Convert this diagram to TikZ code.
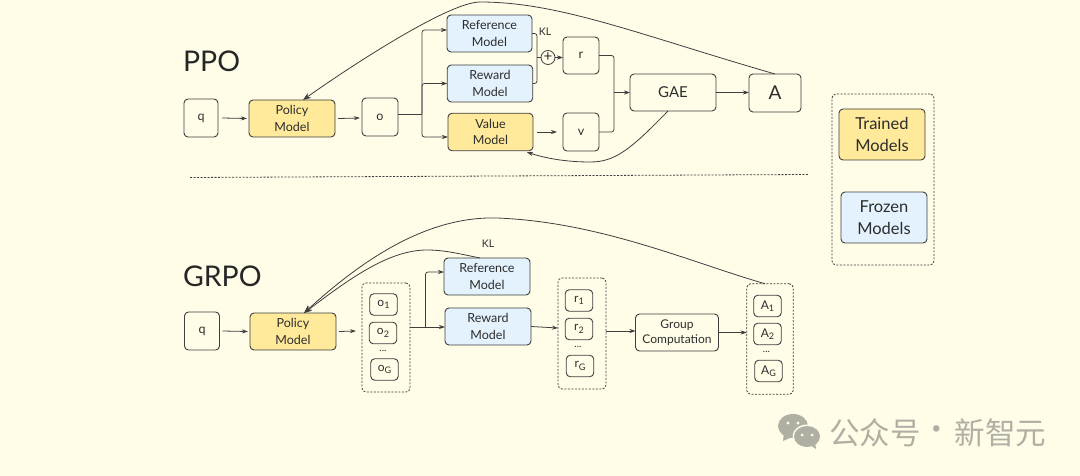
\documentclass[tikz,border=0pt]{standalone}
\usepackage{fontspec}
\setmainfont{Lato}
\newfontfamily\cjkf{Noto Sans CJK SC}
\usetikzlibrary{arrows.meta,calc}
\definecolor{bgc}{RGB}{255,253,232}
\definecolor{yel}{RGB}{255,233,154}
\definecolor{blu}{RGB}{227,242,253}
\definecolor{ink}{RGB}{62,62,62}
\definecolor{txt}{RGB}{45,45,45}
\definecolor{wm}{RGB}{176,175,163}
\newcommand{\sbs}[1]{\raisebox{-2.5pt}{\fontsize{9}{9}\selectfont #1}}
\tikzset{
  x=1pt,y=-1pt,
  every node/.style={text=txt,inner sep=0pt,outer sep=0pt},
  bx/.style={draw=ink,line width=0.9pt,rounded corners=4pt,align=center,font=\fontsize{12.5}{16.5}\selectfont},
  plain/.style={bx,fill=bgc},
  yb/.style={bx,fill=yel},
  bb/.style={bx,fill=blu},
  leg/.style={font=\fontsize{16.5}{21.5}\selectfont},
  big/.style={font=\fontsize{19}{20}\selectfont},
  small/.style={bx,fill=bgc,minimum width=27.5pt,minimum height=21.5pt,font=\fontsize{12}{12}\selectfont},
  grp/.style={draw=ink,line width=0.8pt,dash pattern=on 2pt off 1.5pt,rounded corners=4pt},
  lbl/.style={font=\fontsize{10.5}{12}\selectfont},
  title/.style={font=\fontsize{28.5}{30}\selectfont,anchor=west,text=black!85},
  dots/.style={font=\fontsize{10}{10}\selectfont},
  arr/.style={draw=ink,line width=0.8pt,-{Stealth[length=6pt,width=4pt]}},
  longarr/.style={draw=ink,line width=0.8pt,-{Stealth[length=8pt,width=6pt]}},
  lin/.style={draw=ink,line width=0.8pt,rounded corners=2.5pt},
  wmk/.style={text=wm,font={\cjkf\fontsize{30.5}{30.5}\selectfont}},
}
\begin{document}
\begin{tikzpicture}
\path[fill=bgc] (0,0) rectangle (1080,476);
\useasboundingbox (0,0) rectangle (1080,476);

% --- PPO
\node[title] (ppo) at (183,61) {PPO};
\node[plain,minimum width=34pt,minimum height=38pt] (q1) at (201,118) {q};
\node[yb,minimum width=86pt,minimum height=37pt] (pol1) at (292,118.5) {Policy\\Model};
\node[plain,minimum width=36pt,minimum height=38pt] (o1) at (380,117) {o};
\node[bb,minimum width=85pt,minimum height=37pt] (ref1) at (489.5,33.5) {Reference\\Model};
\node[bb,minimum width=85.5pt,minimum height=37pt] (rew1) at (490,83.5) {Reward\\Model};
\node[yb,minimum width=85pt,minimum height=37.5pt] (val1) at (490.5,132) {Value\\Model};
\node[plain,minimum width=36pt,minimum height=37pt] (r1) at (581,55.5) {r};
\node[plain,minimum width=36pt,minimum height=38pt] (v1) at (581,132) {v};
\node[plain,minimum width=86pt,minimum height=37pt,font=\fontsize{15}{16}\selectfont] (gae) at (673,92.5) {GAE};
\node[plain,minimum width=52pt,minimum height=38pt,big] (a1) at (775,93) {A};
\node[draw=ink,line width=0.8pt,circle,fill=bgc,minimum size=14pt,font=\fontsize{15}{15}\selectfont] (plus) at (548,57.5) {+};
\node[lbl] (kl1) at (545,31.5) {KL};
\coordinate (jo1) at (422,114);
\coordinate (jk1) at (537,57.5);
\coordinate (jg1) at (614,92.5);

\draw[arr] (q1.east) ++(4,0) -- ($(pol1.west)+(-2,0)$);
\draw[arr] (pol1.east) ++(3,0) -- ($(o1.west)+(-2,1)$);
\draw[lin] (o1.east |- jo1) -- (jo1);
\draw[arr,rounded corners=2.5pt] (jo1) |- (ref1.west |- 0,30);
\draw[arr,rounded corners=2.5pt] (jo1) |- (rew1.west);
\draw[arr,rounded corners=2.5pt] (jo1) |- (val1.west |- 0,137);
\draw[lin] (ref1.east) -| (jk1) |- (rew1.east);
\draw[lin] (jk1) -- (plus.west);
\draw[arr] (plus.east) -- (r1.west |- plus.east);
\draw[arr] (val1.east) ++(4,0) -- ($(v1.west)+(-6,0)$);
\draw[lin] (r1.east) -| (jg1);
\draw[lin] (v1.east) -| (jg1);
\draw[arr] (jg1) -- (gae.west);
\draw[arr] (gae.east) -- (a1.west |- gae.east);
\draw[longarr] (a1.north) .. controls (640,35) and (560,2) .. (480,2) .. controls (448,2) and (345,70) .. ($(pol1.north)+(11,0)$);
\draw[arr] ($(gae.south)+(-5,0)$) .. controls (630,150) and (615,162) .. (590,162) .. controls (565,162) and (545,158) .. ($(val1.south east)+(-6,1.5)$);

% --- separator
\coordinate (sepa) at (190,177.5);
\coordinate (sepb) at (808,174.5);
\draw[draw=ink,line width=0.8pt,dash pattern=on 2pt off 1.5pt] (sepa) -- (sepb);

% --- legend
\node[grp,minimum width=102pt,minimum height=171pt] (legbox) at (883,179.5) {};
\node[yb,leg,minimum width=86pt,minimum height=51pt] (tr) at (882,134.5) {Trained\\Models};
\node[bb,leg,minimum width=86pt,minimum height=51pt] (fr) at (884,217.5) {Frozen\\Models};

% --- GRPO
\node[title] (grpo) at (183,276.5) {GRPO};
\node[plain,minimum width=35pt,minimum height=38pt] (q2) at (202,331) {q};
\node[yb,minimum width=86pt,minimum height=37pt] (pol2) at (293,331.5) {Policy\\Model};
\node[bb,minimum width=86pt,minimum height=37pt] (ref2) at (487,276.5) {Reference\\Model};
\node[bb,minimum width=86pt,minimum height=37pt] (rew2) at (488,326.5) {Reward\\Model};
\node[plain,minimum width=83pt,minimum height=37pt,font=\fontsize{12}{15.5}\selectfont] (grpc) at (677,332.5) {Group\\Computation};
\node[lbl] (kl2) at (488,244) {KL};

\node[grp,minimum width=48pt,minimum height=109pt] (go) at (386,337.5) {};
\node[small] (o11) at (383.5,304.5) {o\sbs{1}};
\node[small] (o12) at (383,333) {o\sbs{2}};
\node[dots] (od) at (383,350.5) {...};
\node[small] (o1g) at (384.5,369.5) {o\sbs{G}};

\node[grp,minimum width=48pt,minimum height=111pt] (gr) at (582,333.5) {};
\node[small] (r11) at (579,300.5) {r\sbs{1}};
\node[small] (r12) at (579,329) {r\sbs{2}};
\node[dots] (rd) at (578,346.5) {...};
\node[small] (r1g) at (580,366) {r\sbs{G}};

\node[grp,minimum width=46.5pt,minimum height=110.5pt] (ga) at (770,339) {};
\node[small] (a11) at (767.5,306) {A\sbs{1}};
\node[small] (a12) at (767.5,334) {A\sbs{2}};
\node[dots] (ad) at (766.5,351.5) {...};
\node[small] (a1g) at (768.5,371) {A\sbs{G}};

\coordinate (jo2) at (425.5,327);
\draw[arr] (q2.east) ++(3,0) -- ($(pol2.west)+(-2,0)$);
\draw[arr] (pol2.east) ++(3,0) -- ($(go.west)+(-6,-6.5)$);
\draw[lin] (go.east |- jo2) -- (jo2);
\draw[arr,rounded corners=2.5pt] (jo2) |- (ref2.west |- 0,272);
\draw[arr] (jo2) -- (rew2.west |- jo2);
\draw[arr] (rew2.east) -- (gr.west |- 0,328);
\draw[arr] (gr.east |- 0,331) -- (grpc.west |- 0,331);
\draw[arr] (grpc.east) -- (ga.west |- grpc.east);
\draw[longarr] ($(ref2.north)+(-7,0)$) .. controls (460,254) and (445,250) .. (427,250) .. controls (388,250) and (348,280) .. ($(pol2.north)+(11,0)$);
\draw[longarr] ($(ga.north)+(-5,0)$) .. controls (690,262) and (600,222) .. (497,218) .. controls (425,216) and (360,262) .. ($(pol2.north)+(11,0)$);

% --- watermark
\fill[wm] (793,426) ellipse (15pt and 12pt);
\fill[wm] (784,433) -- (783,441) -- (792,437) -- cycle;
\fill[bgc] (807,436.5) ellipse (14.5pt and 12pt);
\fill[wm] (807,436.5) ellipse (13pt and 10.5pt);
\fill[wm] (810,445) -- (816,449) -- (815,442) -- cycle;
\fill[bgc] (788,423) circle (1.6pt) (798,423) circle (1.6pt) (802,435) circle (1.5pt) (812,435) circle (1.5pt);
\node[wmk,anchor=west] (wmt) at (829,433) {公众号};
\node[wmk] (wmd) at (937,433) {·};
\node[wmk,anchor=east] (wmn) at (1046,433) {新智元};
\end{tikzpicture}
\end{document}
